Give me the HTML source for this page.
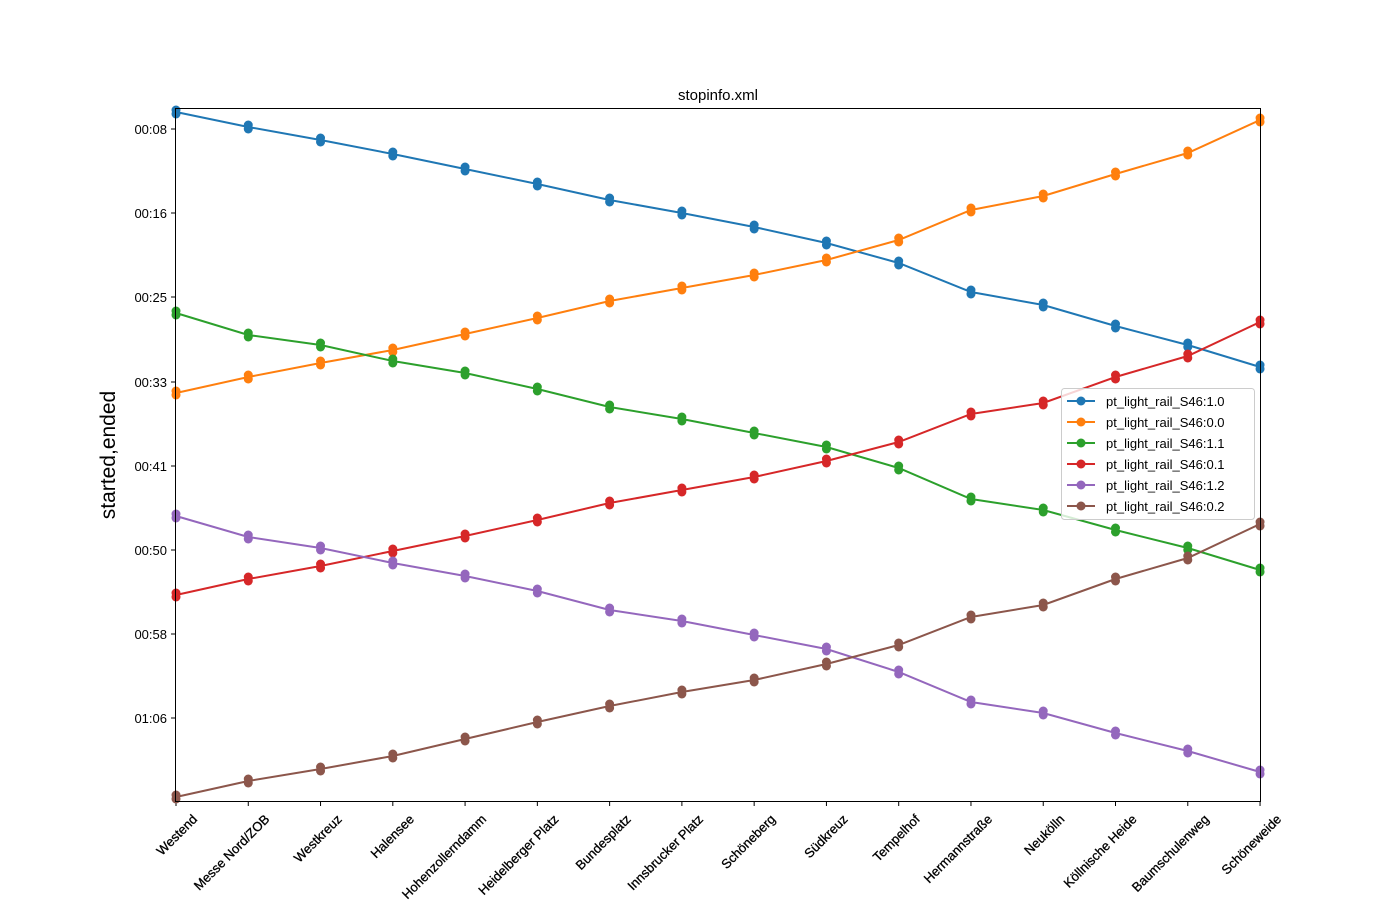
<!DOCTYPE html>
<html><head><meta charset="utf-8"><style>
body{margin:0;background:#fff;}
svg{display:block;font-family:"Liberation Sans","DejaVu Sans",sans-serif;}
</style></head><body>
<svg id="s" width="1400" height="900" viewBox="0 0 1400 900" xmlns="http://www.w3.org/2000/svg">
<rect width="1400" height="900" fill="#fff"/>
<text x="718" y="100" font-size="15" text-anchor="middle">stopinfo.xml</text>
<text transform="translate(115,455) rotate(-90)" font-size="21" text-anchor="middle">started,ended</text>
<g id="g"></g>
<rect x="175.5" y="108.5" width="1085" height="693" fill="none" stroke="#000" stroke-width="1"/>
</svg>
<script>
var g=document.getElementById('g'),h='';
var xs=[],names=["Westend","Messe Nord/ZOB","Westkreuz","Halensee","Hohenzollerndamm","Heidelberger Platz","Bundesplatz","Innsbrucker Platz","Schöneberg","Südkreuz","Tempelhof","Hermannstraße","Neukölln","Köllnische Heide","Baumschulenweg","Schöneweide"];
for(var i=0;i<16;i++)xs.push(176+i*72.27);
var yt=[["00:08",129],["00:16",213],["00:25",297],["00:33",382],["00:41",466],["00:50",550],["00:58",634],["01:06",718]];
yt.forEach(function(t){h+='<line x1="171" x2="176" y1="'+t[1]+'" y2="'+t[1]+'" stroke="#000"/><text x="167" y="'+(t[1]+5)+'" font-size="13" text-anchor="end">'+t[0]+'</text>';});
xs.forEach(function(x,i){h+='<line x1="'+x+'" x2="'+x+'" y1="801" y2="806" stroke="#000"/><text transform="translate('+(x+22)+',820) rotate(-45)" font-size="13" text-anchor="end" stroke="#000" stroke-width="0.3">'+names[i]+'</text>';});
var S=[["#1f77b4",[112,127,140,154,169,184,200,213,227,243,263,292,305,326,345,367],"pt_light_rail_S46:1.0"],
["#ff7f0e",[393,377,363,350,334,318,301,288,275,260,240,210,196,174,153,120],"pt_light_rail_S46:0.0"],
["#2ca02c",[313,335,345,361,373,389,407,419,433,447,468,499,510,530,548,570],"pt_light_rail_S46:1.1"],
["#d62728",[595,579,566,551,536,520,503,490,477,461,442,414,403,377,356,322],"pt_light_rail_S46:0.1"],
["#9467bd",[516,537,548,563,576,591,610,621,635,649,672,702,713,733,751,772],"pt_light_rail_S46:1.2"],
["#8c564b",[797,781,769,756,739,722,706,692,680,664,645,617,605,579,558,524],"pt_light_rail_S46:0.2"]];
S.forEach(function(s){var p=s[1].map(function(y,i){return xs[i]+','+y;}).join(' ');
h+='<polyline points="'+p+'" fill="none" stroke="'+s[0]+'" stroke-width="2"/>';
s[1].forEach(function(y,i){h+='<circle cx="'+xs[i]+'" cy="'+(y-2)+'" r="4.5" fill="'+s[0]+'"/><circle cx="'+xs[i]+'" cy="'+(y+2)+'" r="4.5" fill="'+s[0]+'"/>';});});
h+='<rect x="1061.5" y="388.5" width="193" height="131" rx="3" fill="#fff" fill-opacity="0.8" stroke="#ccc"/>';
S.forEach(function(s,i){var y=401+i*21;h+='<line x1="1067" x2="1095" y1="'+y+'" y2="'+y+'" stroke="'+s[0]+'" stroke-width="2"/><circle cx="1081" cy="'+y+'" r="4.5" fill="'+s[0]+'"/><text x="1106" y="'+(y+5)+'" font-size="13">'+s[2]+'</text>';});
g.innerHTML=h;
</script>
</body></html>
